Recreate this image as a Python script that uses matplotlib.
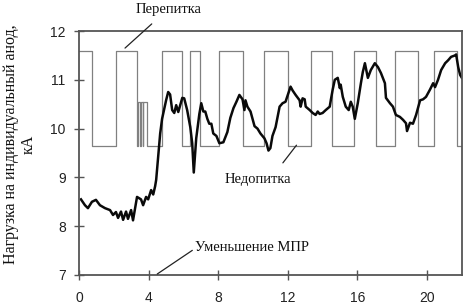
import numpy as np
import matplotlib
matplotlib.use("Agg")
import matplotlib.pyplot as plt

# Сигнал питания (перепитка / недопитка), ступенчатый
t_pit = [0, 0.75, 2.13, 3.34, 3.37, 3.52, 3.55, 3.66, 3.69, 3.92, 4.78, 5.94, 6.4, 6.97,
         8.07, 9.4, 10.66, 11.99, 13.31, 14.52, 15.79, 17.06, 18.16, 19.48, 20.4, 21.73, 22.0]
ur_pit = [11.6, 9.65, 11.6, 9.65, 10.55, 9.65, 10.55, 9.65, 10.55, 9.65, 11.6, 9.65, 11.6, 9.65,
          11.6, 9.65, 11.6, 9.65, 11.6, 9.65, 11.6, 9.65, 11.6, 9.65, 11.6, 9.65, 9.65]

# Нагрузка на анод, кА
t_nagr = [0.12, 0.35, 0.52, 0.75, 0.98, 1.21, 1.5, 1.79, 1.96, 2.13, 2.25, 2.42, 2.54, 2.71,
          2.82, 3.0, 3.11, 3.34, 3.57, 3.69, 3.86, 3.98, 4.15, 4.27, 4.38, 4.44, 4.55, 4.67,
          4.78, 4.9, 5.01, 5.13, 5.24, 5.36, 5.48, 5.59, 5.71, 5.94, 6.05, 6.22, 6.4, 6.51,
          6.6, 6.74, 6.92, 7.03, 7.15, 7.26, 7.38, 7.49, 7.61, 7.72, 7.9, 8.07, 8.3, 8.53,
          8.7, 8.88, 9.05, 9.22, 9.4, 9.51, 9.57, 9.68, 9.86, 10.09, 10.26, 10.43, 10.66, 10.78,
          10.89, 11.0, 11.12, 11.3, 11.53, 11.7, 11.87, 12.1, 12.16, 12.28, 12.45, 12.68, 12.74,
          12.85, 12.97, 13.03, 13.26, 13.43, 13.6, 13.72, 13.83, 14.0, 14.18, 14.41, 14.47,
          14.58, 14.7, 14.87, 14.99, 15.04, 15.16, 15.33, 15.5, 15.62, 15.73, 15.85, 16.02,
          16.2, 16.31, 16.43, 16.6, 16.77, 17.0, 17.18, 17.35, 17.58, 17.64, 17.87, 18.04,
          18.21, 18.44, 18.62, 18.79, 18.85, 19.02, 19.19, 19.37, 19.6, 19.77, 19.94, 20.17,
          20.35, 20.46, 20.63, 20.81, 21.04, 21.21, 21.38, 21.61, 21.67, 21.79, 21.9, 22.0]
nagr = [8.55, 8.43, 8.37, 8.5, 8.54, 8.43, 8.37, 8.33, 8.23, 8.29, 8.17, 8.3, 8.13, 8.3,
        8.15, 8.33, 8.12, 8.6, 8.55, 8.43, 8.6, 8.55, 8.74, 8.65, 8.82, 8.95, 9.4, 9.9,
        10.2, 10.4, 10.58, 10.75, 10.7, 10.38, 10.32, 10.48, 10.34, 10.63, 10.62, 10.38, 10.03, 9.7,
        9.1, 9.8, 10.3, 10.52, 10.35, 10.35, 10.2, 10.1, 10.1, 9.9, 9.85, 9.7, 9.72, 9.93,
        10.22, 10.42, 10.55, 10.69, 10.6, 10.38, 10.58, 10.45, 10.35, 10.05, 10.0, 9.9, 9.8, 9.7,
        9.55, 9.6, 9.85, 10.03, 10.45, 10.52, 10.55, 10.8, 10.86, 10.78, 10.69, 10.58, 10.45,
        10.62, 10.6, 10.45, 10.38, 10.32, 10.28, 10.35, 10.3, 10.32, 10.38, 10.45, 10.58,
        10.8, 11.0, 11.04, 10.83, 10.9, 10.65, 10.45, 10.38, 10.55, 10.45, 10.2, 10.52,
        10.93, 11.16, 11.34, 11.04, 11.2, 11.34, 11.26, 11.14, 10.93, 10.63, 10.52, 10.45,
        10.28, 10.24, 10.18, 10.11, 9.95, 10.12, 10.1, 10.28, 10.58, 10.6, 10.65, 10.8,
        10.93, 10.85, 11.0, 11.2, 11.34, 11.4, 11.47, 11.5, 11.52, 11.26, 11.1, 11.04]

xticks = [0, 4, 8, 12, 16, 20]
yticks = [7, 8, 9, 10, 11, 12]

serif = "Liberation Serif"
sans = "Liberation Sans"

fig = plt.figure(figsize=(4.64, 3.04), dpi=100)
ax = fig.add_axes([0.170, 0.0954, 0.8254, 0.8026])

ax.step(t_pit, ur_pit, where="post", color="#808080", lw=0.9)
ax.plot(t_nagr, nagr, color="#0a0a0a", lw=1.8)

ax.set_xlim(0, 22)
ax.set_ylim(7, 12)
ax.set_xticks(xticks)
ax.set_yticks(yticks)
ax.tick_params(direction="inout", length=7, width=1, color="#555555",
               labelsize=10, labelcolor="#222222")
for lab in ax.get_xticklabels() + ax.get_yticklabels():
    lab.set_family(sans)
ax.tick_params(axis="x", pad=8)
ax.tick_params(axis="y", pad=6)
for sp in ax.spines.values():
    sp.set_color("#555555")
    sp.set_linewidth(1.3)

ax.set_ylabel("Нагрузка на индивидуальный анод,\nкА", family=serif, fontsize=11.5,
              linespacing=1.15, color="#111111")
ax.yaxis.set_label_coords(-0.11, 0.535)

ax.annotate("Перепитка", xy=(2.65, 11.65), xytext=(5.13, 12.45), family=serif,
            fontsize=10.5, ha="center", va="center", color="#111111", annotation_clip=False,
            arrowprops=dict(arrowstyle="-", color="#222222", lw=0.9,
                            shrinkA=6, shrinkB=0))
ax.annotate("Недопитка", xy=(12.5, 9.66), xytext=(10.3, 8.95), family=serif,
            fontsize=10.5, ha="center", va="center", color="#111111",
            arrowprops=dict(arrowstyle="-", color="#222222", lw=0.9,
                            shrinkA=7, shrinkB=0,
                            relpos=(0.75, 1.0)))
ax.annotate("Уменьшение МПР", xy=(4.5, 7.02), xytext=(9.95, 7.57), family=serif,
            fontsize=10.5, ha="center", va="center", color="#111111",
            arrowprops=dict(arrowstyle="-", color="#222222", lw=0.9,
                            shrinkA=0, shrinkB=0, relpos=(0.0, 0.4)))

fig.savefig("out.png", dpi=100)
